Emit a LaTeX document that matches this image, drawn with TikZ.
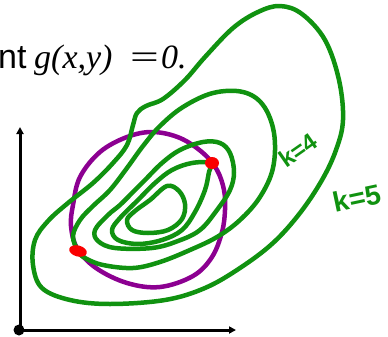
\documentclass[tikz,border=0pt]{standalone}
\usepackage{fontspec}
\usepackage{graphicx}
\setmainfont{Liberation Serif}
\newfontfamily\arialf{Liberation Sans}
\usetikzlibrary{arrows.meta}
\definecolor{inkgreen}{RGB}{16,146,16}
\definecolor{inkpurple}{RGB}{140,0,145}
\definecolor{inkred}{RGB}{250,0,0}
\tikzset{
  contour/.style={draw=inkgreen, line width=4.5pt, line cap=round, line join=round},
  constraint/.style={draw=inkpurple, line width=4.5pt},
  axisline/.style={draw=black, line width=3pt, -{Triangle[length=7pt,width=7pt]}},
  touch/.style={fill=inkred, draw=none},
  klabel/.style={text=inkgreen, font=\arialf\bfseries\fontsize{24}{24}\selectfont, inner sep=0},
  bigtext/.style={inner sep=0, anchor=base west}
}
\begin{document}
\begin{tikzpicture}[x=1pt,y=-1pt]
\useasboundingbox (0,0) rectangle (388,337);
% title text
\node[bigtext, font=\arialf\fontsize{34}{34}\selectfont] (nt) at (-2,68) {nt};
\node[bigtext, font=\fontsize{34}{34}\selectfont\itshape] (gxy) at (34,68) {g(x,y)};
\node[bigtext, font=\fontsize{34}{34}\selectfont] (eq) at (130,68) {\scalebox{1.5}[1]{=}};
\node[bigtext, font=\fontsize{34}{34}\selectfont\itshape] (zero) at (161,68) {0.};
% axes
\coordinate (O) at (20,330);
\coordinate (ytip) at (20,127);
\coordinate (xtip) at (236,330);
\draw[axisline] (O) -- (ytip);
\draw[axisline] (O) -- (xtip);
\fill (19,330) circle (5.5);
% constraint circle
\draw[constraint] plot[smooth cycle, tension=0.6] coordinates {
 (73,205) (80,177) (100,152) (127,137) (153,132) (180,138) (203,153) (217,170)
 (224,190) (225,210) (222,232) (212,257) (193,276) (160,287) (127,283) (96,268)
 (77,248) (71,226)};
% contours
\draw[contour] plot[smooth cycle, tension=0.6] coordinates {
 (137,113) (146,106) (163,99) (185,80) (205,57) (233,28) (258,12) (280,6)
 (302,14) (325,40) (339,80) (343,120) (336,150) (322,180) (300,213) (273,243)
 (240,268) (205,288) (165,300) (110,304) (70,300) (42,288) (33,265) (35,240)
 (48,221) (68,203) (93,183) (113,163) (127,145) (133,125)};
\draw[contour] plot[smooth cycle, tension=0.6] coordinates {
 (78,251) (73,236) (80,220) (93,206) (110,190) (127,168) (143,146) (160,126)
 (183,107) (213,93) (243,92) (263,105) (274,133) (273,168) (260,197) (240,220)
 (217,237) (190,250) (160,262) (133,268) (103,265) (85,258)};
\draw[contour] plot[smooth cycle, tension=0.6] coordinates {
 (95,230) (108,215) (120,205) (133,192) (145,180) (162,163) (180,150) (203,142)
 (220,143) (230,153) (234,172) (230,190) (217,210) (200,230) (178,241) (152,248)
 (115,248) (98,241)};
\draw[contour] plot[smooth cycle, tension=0.6] coordinates {
 (211,163) (192,163) (172,170) (155,183) (138,200) (120,218) (112,230) (118,240)
 (138,244) (162,240) (182,230) (195,212) (205,190) (209,172)};
\draw[contour] plot[smooth cycle, tension=0.6] coordinates {
 (167,186) (179,191) (185,204) (182,219) (168,230) (148,233) (132,230) (127,220)
 (135,211) (150,200)};
% tangency points
\fill[touch] (212,163) ellipse (7 and 6);
\fill[touch, rotate around={-15:(78,251)}] (78,251) ellipse (9 and 5.5);
% labels
\node[klabel, rotate=35] (k4) at (298,150) {k=4};
\node[klabel, rotate=12, font=\arialf\bfseries\fontsize{28}{28}\selectfont] (k5) at (357,198) {k=5};
\end{tikzpicture}
\end{document}
